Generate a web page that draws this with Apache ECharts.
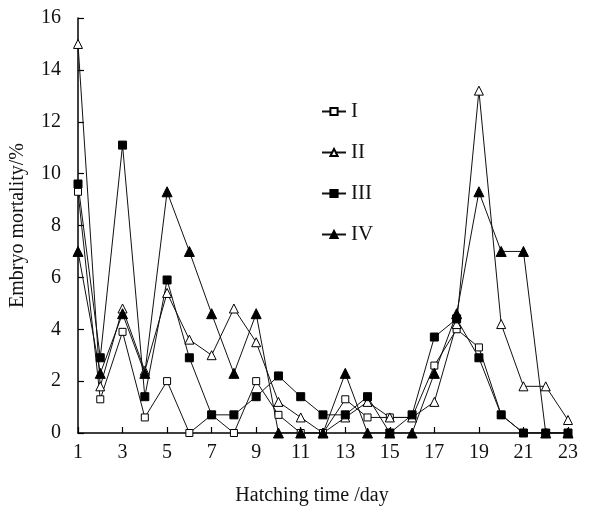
<!DOCTYPE html>
<html>
<head>
<meta charset="utf-8">
<script src="https://cdn.jsdelivr.net/npm/echarts@6/dist/echarts.min.js"></script>
<style>
  html, body { margin: 0; padding: 0; background: #fff; }
  #chart { width: 590px; height: 508px; }
</style>
</head>
<body>
<div id="chart"></div>
<script>
// hatching days
var days = [1, 2, 3, 4, 5, 6, 7, 8, 9, 10, 11, 12, 13, 14, 15, 16, 17, 18, 19, 20, 21, 22, 23];
// embryo mortality (%) per group
var groupI   = [9.3, 1.3, 3.9, 0.6, 2.0, 0, 0.7, 0, 2.0, 0.7, 0, 0, 1.3, 0.6, 0.6, 0.6, 2.6, 4.0, 3.3, 0.7, 0, 0, 0];
var groupII  = [15.0, 1.8, 4.8, 2.4, 5.4, 3.6, 3.0, 4.8, 3.5, 1.2, 0.6, 0, 0.6, 1.2, 0.6, 0.6, 1.2, 4.2, 13.2, 4.2, 1.8, 1.8, 0.5];
var groupIII = [9.6, 2.9, 11.1, 1.4, 5.9, 2.9, 0.7, 0.7, 1.4, 2.2, 1.4, 0.7, 0.7, 1.4, 0, 0.7, 3.7, 4.4, 2.9, 0.7, 0, 0, 0];
var groupIV  = [7.0, 2.3, 4.6, 2.3, 9.3, 7.0, 4.6, 2.3, 4.6, 0, 0, 0, 2.3, 0, 0, 0, 2.3, 4.6, 9.3, 7.0, 7.0, 0, 0];
var groupNames = ['I', 'II', 'III', 'IV'];
var yTicks = { min: 0, max: 16, step: 2 };
var xTicks = { min: 1, max: 23, step: 2 };

var FONT = '"Liberation Serif", "DejaVu Serif", serif';

function pairs(vals) {
    return days.map(function (d, i) { return [d, vals[i]]; });
}

function makeSeries(name, vals, symbol, size, filled) {
    return {
        name: name,
        type: 'line',
        data: pairs(vals),
        symbol: symbol,
        symbolSize: size,
        showAllSymbol: true,
        lineStyle: { color: '#111', width: 1 },
        itemStyle: {
            color: filled ? '#000' : '#fff',
            borderColor: '#000',
            borderWidth: 1
        },
        emphasis: { disabled: true }
    };
}

var myChart = echarts.init(document.getElementById('chart'), null, { renderer: 'canvas' });

var option = {
    animation: false,
    backgroundColor: '#fff',
    grid: { left: 78, right: 22, top: 18, bottom: 75, containLabel: false, outerBoundsMode: 'none' },
    legend: {
        orient: 'vertical',
        left: 316,
        top: 96,
        itemWidth: 24,
        itemHeight: 9,
        itemGap: 20,
        data: groupNames,
        textStyle: { fontFamily: FONT, fontSize: 21, color: '#111', lineHeight: 20 }
    },
    xAxis: {
        type: 'value',
        min: xTicks.min,
        max: xTicks.max,
        interval: xTicks.step,
        name: 'Hatching time /day',
        nameLocation: 'middle',
        nameGap: 53,
        nameTextStyle: { fontFamily: FONT, fontSize: 20, color: '#111', padding: [0, 22, 0, 0] },
        axisLine: { lineStyle: { color: '#000', width: 1.5 } },
        axisTick: { inside: true, length: 6, lineStyle: { color: '#000', width: 1.2 } },
        axisLabel: { fontFamily: FONT, fontSize: 20, color: '#111', margin: 10 },
        splitLine: { show: false }
    },
    yAxis: {
        type: 'value',
        min: yTicks.min,
        max: yTicks.max,
        interval: yTicks.step,
        name: 'Embryo mortality/%',
        nameLocation: 'middle',
        nameGap: 50,
        nameTextStyle: { fontFamily: FONT, fontSize: 20, color: '#111' },
        axisLine: { show: true, lineStyle: { color: '#000', width: 1.5 } },
        axisTick: { show: true, inside: true, length: 6, lineStyle: { color: '#000', width: 1.2 } },
        axisLabel: { fontFamily: FONT, fontSize: 20, color: '#111', margin: 17 },
        splitLine: { show: false }
    },
    series: [
        makeSeries('I', groupI, 'rect', 7, false),
        makeSeries('II', groupII, 'triangle', 9, false),
        makeSeries('III', groupIII, 'rect', 8, true),
        makeSeries('IV', groupIV, 'triangle', 10, true)
    ]
};

myChart.setOption(option);
</script>
</body>
</html>
